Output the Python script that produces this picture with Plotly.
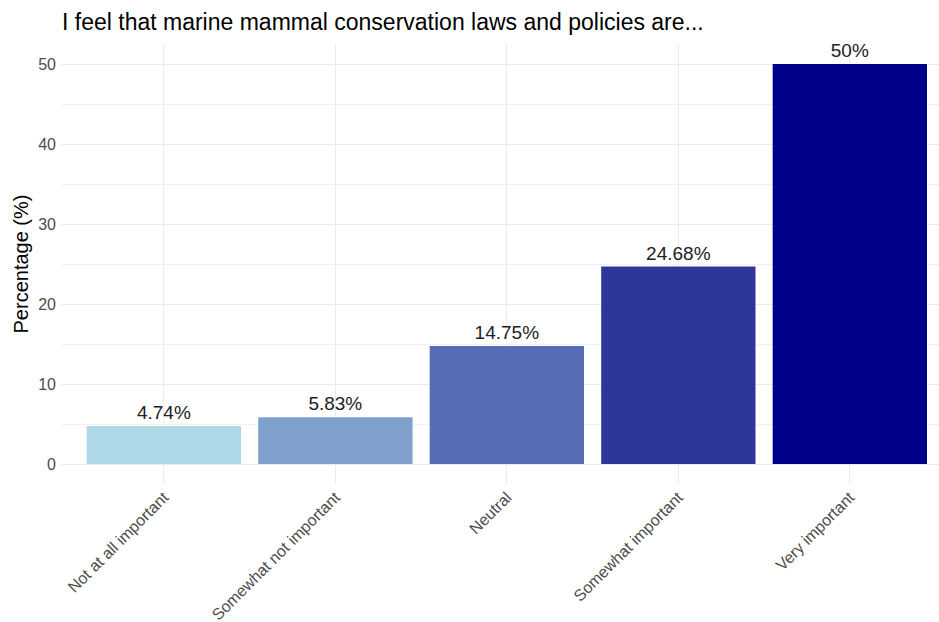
import plotly.graph_objects as go

# Survey responses and their share of respondents
categories = ["Not at all important", "Somewhat not important", "Neutral",
              "Somewhat important", "Very important"]
percentages = [4.74, 5.83, 14.75, 24.68, 50]
bar_colors = ["#ADD8E6", "#7FA0CC", "#566CB5", "#2E369C", "#00008B"]
value_labels = [f"{p:g}%" for p in percentages]

font_family = "Liberation Sans, Arial, sans-serif"
x_pos = list(range(1, len(categories) + 1))

fig = go.Figure(
    go.Bar(
        x=x_pos,
        y=percentages,
        width=0.9,
        marker=dict(color=bar_colors, line=dict(width=0)),
        text=value_labels,
        textposition="outside",
        textfont=dict(size=19, color="#222222", family=font_family),
        cliponaxis=False,
        hoverinfo="skip",
    )
)

fig.update_layout(
    width=939,
    height=622,
    margin=dict(l=61, r=0, t=44, b=138),
    plot_bgcolor="white",
    paper_bgcolor="white",
    showlegend=False,
    title=dict(
        text="I feel that marine mammal conservation laws and policies are...",
        x=62 / 939, xanchor="left",
        y=1 - 22 / 622, yanchor="middle",
        font=dict(size=23, color="black", family=font_family),
    ),
    font=dict(family=font_family),
)

fig.update_xaxes(
    range=[0.4, 5.52],
    tickmode="array",
    tickvals=x_pos,
    ticktext=categories,
    tickangle=-45,
    tickfont=dict(size=16, color="#4D4D4D"),
    showgrid=True,
    gridcolor="#EBEBEB",
    gridwidth=1,
    zeroline=False,
    showline=False,
    ticks="",
)

fig.update_yaxes(
    range=[-2.5, 52.5],
    tickmode="array",
    tickvals=[0, 10, 20, 30, 40, 50],
    tickfont=dict(size=16, color="#4D4D4D"),
    showgrid=True,
    gridcolor="#EBEBEB",
    gridwidth=1,
    minor=dict(tickvals=[5, 15, 25, 35, 45], showgrid=True, gridcolor="#F2F2F2", gridwidth=1),
    zeroline=False,
    showline=False,
    ticks="",
    ticklabelstandoff=4,
    title=dict(text="Percentage (%)", font=dict(size=20, color="black"), standoff=4),
)

fig.write_html("out.html")
